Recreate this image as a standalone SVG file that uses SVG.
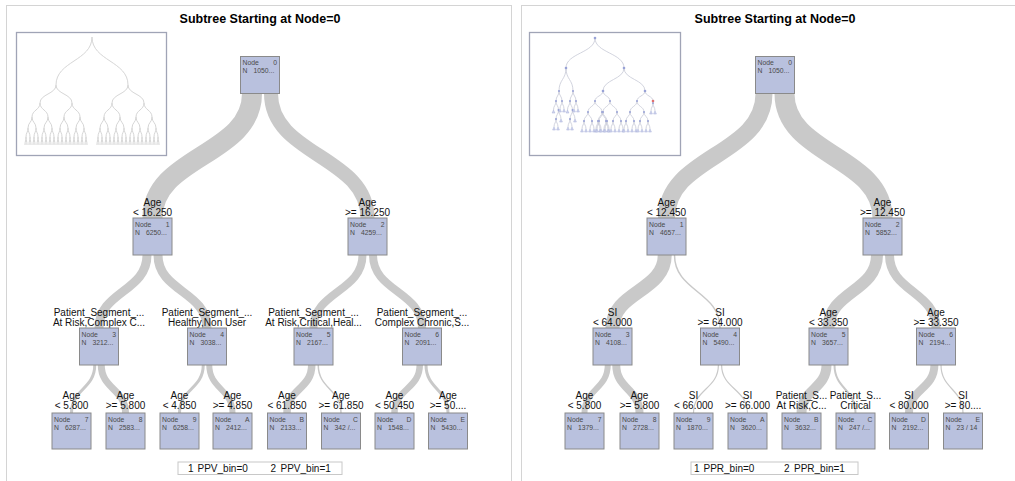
<svg xmlns="http://www.w3.org/2000/svg" width="1015" height="481" viewBox="0 0 1015 481">
<style>
.panel{fill:#fff;stroke:#d4d4d4;stroke-width:1}
.title{font:bold 12.5px "Liberation Sans",Arial,sans-serif;text-anchor:middle;fill:#000}
.ov{fill:#fff;stroke:#a0a4b6;stroke-width:1.3}
.mp{fill:none;stroke:#d6d6d6;stroke-width:1}
.ml{fill:none;stroke:#c6c9d6;stroke-width:.8}
.md{fill:#98a2d6}
.mlf{fill:#d3d7ee;stroke:#a6aed8;stroke-width:.5}
.band{fill:none;stroke:#c9c9c9;stroke-linecap:butt}
.nb{fill:#b9c1de;stroke:#8a8a8a;stroke-width:1}
.nt{font:6.8px "Liberation Sans",Arial,sans-serif;fill:#4a4a4a}
.ne{text-anchor:end}
.lb{font:10px "Liberation Sans",Arial,sans-serif;text-anchor:middle;fill:#111}
.lg{fill:#fff;stroke:#c8c8c8;stroke-width:1}
.lt{font:10px "Liberation Sans",Arial,sans-serif;fill:#111}
</style>
<defs>
<g id="m6"><path class="mp" d="M0,0C0,4 -1,4 -1,8M0,0C0,4 1,4 1,8"/></g>
<g id="m5"><path class="mp" d="M0,0C0,4.5 -2,4.5 -2,9M0,0C0,4.5 2,4.5 2,9"/><use href="#m6" x="-2" y="9"/><use href="#m6" x="2" y="9"/></g>
<g id="m4"><path class="mp" d="M0,0C0,5.5 -4,5.5 -4,11M0,0C0,5.5 4,5.5 4,11"/><use href="#m5" x="-4" y="11"/><use href="#m5" x="4" y="11"/></g>
<g id="m3"><path class="mp" d="M0,0C0,7 -8,7 -8,14M0,0C0,7 8,7 8,14"/><use href="#m4" x="-8" y="14"/><use href="#m4" x="8" y="14"/></g>
<g id="m2"><path class="mp" d="M0,0C0,9 -16,9 -16,18M0,0C0,9 16,9 16,18"/><use href="#m3" x="-16" y="18"/><use href="#m3" x="16" y="18"/></g>
<g id="m1"><path class="mp" d="M0,0C0,24 -36,24 -36,48M0,0C0,24 36,24 36,48"/><use href="#m2" x="-36" y="48"/><use href="#m2" x="36" y="48"/></g>
<g id="lf"><path d="M0,0l-1.4,3h2.8z" class="mlf"/></g>
<g id="q1"><path d="M0,0C0,4 -2,4 -2,8M0,0C0,4 2,4 2,8" class="ml"/><use href="#lf" x="-2" y="8"/><use href="#lf" x="2" y="8"/><circle r="1" class="md"/></g>
<g id="q2"><path d="M0,0C0,4.5 -4,4.5 -4,9M0,0C0,4.5 4,4.5 4,9" class="ml"/><use href="#q1" x="-4" y="9"/><use href="#q1" x="4" y="9"/><circle r="1" class="md"/></g>
<g id="q3"><path d="M0,0C0,5.5 -7,5.5 -7,11M0,0C0,5.5 7,5.5 7,11" class="ml"/><use href="#q2" x="-7" y="11"/><use href="#q2" x="7" y="11"/><circle r="1" class="md"/></g>
<g id="c2"><path d="M0,0C0,4.5 -2.5,4.5 -2.5,9M0,0C0,4.5 2.5,4.5 2.5,9" class="ml"/><use href="#q1" x="-2.5" y="9"/><use href="#lf" x="2.5" y="9"/><circle r="1" class="md"/></g>
<g id="c3"><path d="M0,0C0,4.5 -2.5,4.5 -2.5,9M0,0C0,4.5 2.5,4.5 2.5,9" class="ml"/><use href="#lf" x="-2.5" y="9"/><use href="#c2" x="2.5" y="9"/><circle r="1" class="md"/></g>
<g id="c4"><path d="M0,0C0,5 -3,5 -3,10M0,0C0,5 3,5 3,10" class="ml"/><use href="#c3" x="-3" y="10"/><use href="#q1" x="3" y="10"/><circle r="1" class="md"/></g>
</defs>

<g id="panels">
<rect class="panel" x="6.5" y="5.5" width="505" height="490"/>
<rect class="panel" x="521.5" y="5.5" width="510" height="490"/>
<text class="title" x="260" y="23">Subtree Starting at Node=0</text>
<text class="title" x="775" y="23">Subtree Starting at Node=0</text>
</g>

<g id="overview-left">
<rect class="ov" x="16.5" y="32.5" width="150" height="123"/>
<use href="#m1" x="92" y="37"/>
</g>

<g id="overview-right">
<rect class="ov" x="529.5" y="32.5" width="151" height="123"/>
<path class="ml" d="M595,38C595,53 566,53 566,68M595,38C595,53 624,53 624,68M566,68C566,79.5 559,79.5 559,91M566,68C566,79.5 573,79.5 573,91M624,68C624,79.5 603,79.5 603,91M624,68C624,79.5 645,79.5 645,91M603,91C603,96 595,96 595,101M603,91C603,96 610,96 610,101M645,91C645,96 637,96 637,101M645,91C645,96 653,96 653,101"/>
<use href="#c4" x="559" y="91"/>
<use href="#c4" x="573" y="91"/>
<use href="#q3" x="595" y="101"/>
<use href="#q3" x="610" y="101"/>
<use href="#q3" x="637" y="101"/>
<use href="#q1" x="653" y="103"/>
<circle class="md" cx="595" cy="38" r="1.3"/>
<circle class="md" cx="566" cy="68" r="1.3"/>
<circle class="md" cx="624" cy="68" r="1.3"/>
<circle class="md" cx="603" cy="91" r="1.3"/>
<circle class="md" cx="645" cy="91" r="1.3"/>
<circle cx="653" cy="101" r="1.3" fill="#e07070"/>
</g>

<g id="connectors">
<path class="band" stroke-width="20" d="M252,93.5C252,155.75 152.5,155.75 152.5,218"/>
<path class="band" stroke-width="14" d="M271,93.5C271,155.75 367.5,155.75 367.5,218"/>
<path class="band" stroke-width="9" d="M147,255C147,291.5 99,291.5 99,328"/>
<path class="band" stroke-width="9" d="M158,255C158,291.5 207,291.5 207,328"/>
<path class="band" stroke-width="8" d="M362.5,255C362.5,291.5 313.5,291.5 313.5,328"/>
<path class="band" stroke-width="8" d="M373,255C373,291.5 422,291.5 422,328"/>
<path class="band" stroke-width="3" d="M94.75,365C94.75,389 71.5,389 71.5,413"/>
<path class="band" stroke-width="7" d="M101.25,365C101.25,389 125.5,389 125.5,413"/>
<path class="band" stroke-width="3" d="M203.25,365C203.25,389 179.5,389 179.5,413"/>
<path class="band" stroke-width="6" d="M209.25,365C209.25,389 232.5,389 232.5,413"/>
<path class="band" stroke-width="7.5" d="M311.75,365C311.75,389 287,389 287,413"/>
<path class="band" stroke-width="1.5" d="M318.25,365C318.25,389 341,389 341,413"/>
<path class="band" stroke-width="6.5" d="M419.75,365C419.75,389 394.5,389 394.5,413"/>
<path class="band" stroke-width="3" d="M426,365C426,389 448,389 448,413"/>

<path class="band" stroke-width="17" d="M764,93.5C764,155.75 666.5,155.75 666.5,218"/>
<path class="band" stroke-width="20" d="M784.5,93.5C784.5,155.75 882.5,155.75 882.5,218"/>
<path class="band" stroke-width="14" d="M664.75,255C664.75,291.5 612.5,291.5 612.5,328"/>
<path class="band" stroke-width="1.5" d="M674.5,255C674.5,291.5 720,291.5 720,328"/>
<path class="band" stroke-width="12" d="M877,255C877,291.5 828.5,291.5 828.5,328"/>
<path class="band" stroke-width="9" d="M889.5,255C889.5,291.5 936,291.5 936,328"/>
<path class="band" stroke-width="6" d="M607.75,365C607.75,389 584.5,389 584.5,413"/>
<path class="band" stroke-width="8" d="M616.25,365C616.25,389 639.5,389 639.5,413"/>
<path class="band" stroke-width="1.2" d="M718.4,365C718.4,389 693.5,389 693.5,413"/>
<path class="band" stroke-width="1.2" d="M721.6,365C721.6,389 747.5,389 747.5,413"/>
<path class="band" stroke-width="10" d="M826.5,365C826.5,389 801.5,389 801.5,413"/>
<path class="band" stroke-width="2" d="M834.5,365C834.5,389 855.5,389 855.5,413"/>
<path class="band" stroke-width="8" d="M934.4,365C934.4,389 909,389 909,413"/>
<path class="band" stroke-width="1.2" d="M941,365C941,389 963,389 963,413"/>
</g>

<!-- Left tree nodes -->
<g id="L-node0" transform="translate(240.5,56.5)"><rect class="nb" width="39" height="37"/><text class="nt" x="2" y="8.5">Node</text><text class="nt ne" x="36.5" y="8.5">0</text><text class="nt" x="2" y="16.5">N</text><text class="nt" x="13" y="16.5">1050...</text></g>
<g id="L-node1" transform="translate(133,218)"><text class="lb" x="19.5" y="-12.5">Age</text><text class="lb" x="19.5" y="-2">&lt; 16.250</text><rect class="nb" width="39" height="37"/><text class="nt" x="2" y="8.5">Node</text><text class="nt ne" x="36.5" y="8.5">1</text><text class="nt" x="2" y="16.5">N</text><text class="nt" x="13" y="16.5">6250...</text></g>
<g id="L-node2" transform="translate(348,218)"><text class="lb" x="19.5" y="-12.5">Age</text><text class="lb" x="19.5" y="-2">&gt;= 16.250</text><rect class="nb" width="39" height="37"/><text class="nt" x="2" y="8.5">Node</text><text class="nt ne" x="36.5" y="8.5">2</text><text class="nt" x="2" y="16.5">N</text><text class="nt" x="13" y="16.5">4259...</text></g>
<g id="L-node3" transform="translate(79.5,328)"><text class="lb" x="19.5" y="-12.5">Patient_Segment_...</text><text class="lb" x="19.5" y="-2.5">At Risk,Complex C...</text><rect class="nb" width="39" height="37"/><text class="nt" x="2" y="8.5">Node</text><text class="nt ne" x="36.5" y="8.5">3</text><text class="nt" x="2" y="16.5">N</text><text class="nt" x="13" y="16.5">3212...</text></g>
<g id="L-node4" transform="translate(187.5,328)"><text class="lb" x="19.5" y="-12.5">Patient_Segment_...</text><text class="lb" x="19.5" y="-2.5">Healthy,Non User</text><rect class="nb" width="39" height="37"/><text class="nt" x="2" y="8.5">Node</text><text class="nt ne" x="36.5" y="8.5">4</text><text class="nt" x="2" y="16.5">N</text><text class="nt" x="13" y="16.5">3038...</text></g>
<g id="L-node5" transform="translate(294,328)"><text class="lb" x="19.5" y="-12.5">Patient_Segment_...</text><text class="lb" x="19.5" y="-2.5">At Risk,Critical,Heal...</text><rect class="nb" width="39" height="37"/><text class="nt" x="2" y="8.5">Node</text><text class="nt ne" x="36.5" y="8.5">5</text><text class="nt" x="2" y="16.5">N</text><text class="nt" x="13" y="16.5">2167...</text></g>
<g id="L-node6" transform="translate(402.5,328)"><text class="lb" x="19.5" y="-12.5">Patient_Segment_...</text><text class="lb" x="19.5" y="-2.5">Complex Chronic,S...</text><rect class="nb" width="39" height="37"/><text class="nt" x="2" y="8.5">Node</text><text class="nt ne" x="36.5" y="8.5">6</text><text class="nt" x="2" y="16.5">N</text><text class="nt" x="13" y="16.5">2091...</text></g>
<g id="L-node7" transform="translate(52,413)"><text class="lb" x="19.5" y="-14.5">Age</text><text class="lb" x="19.5" y="-4">&lt; 5.800</text><rect class="nb" width="39" height="36"/><text class="nt" x="2" y="8.5">Node</text><text class="nt ne" x="36.5" y="8.5">7</text><text class="nt" x="2" y="16.5">N</text><text class="nt" x="13" y="16.5">6287...</text></g>
<g id="L-node8" transform="translate(106,413)"><text class="lb" x="19.5" y="-14.5">Age</text><text class="lb" x="19.5" y="-4">&gt;= 5.800</text><rect class="nb" width="39" height="36"/><text class="nt" x="2" y="8.5">Node</text><text class="nt ne" x="36.5" y="8.5">8</text><text class="nt" x="2" y="16.5">N</text><text class="nt" x="13" y="16.5">2583...</text></g>
<g id="L-node9" transform="translate(160,413)"><text class="lb" x="19.5" y="-14.5">Age</text><text class="lb" x="19.5" y="-4">&lt; 4.850</text><rect class="nb" width="39" height="36"/><text class="nt" x="2" y="8.5">Node</text><text class="nt ne" x="36.5" y="8.5">9</text><text class="nt" x="2" y="16.5">N</text><text class="nt" x="13" y="16.5">6258...</text></g>
<g id="L-nodeA" transform="translate(213,413)"><text class="lb" x="19.5" y="-14.5">Age</text><text class="lb" x="19.5" y="-4">&gt;= 4.850</text><rect class="nb" width="39" height="36"/><text class="nt" x="2" y="8.5">Node</text><text class="nt ne" x="36.5" y="8.5">A</text><text class="nt" x="2" y="16.5">N</text><text class="nt" x="13" y="16.5">2412...</text></g>
<g id="L-nodeB" transform="translate(267.5,413)"><text class="lb" x="19.5" y="-14.5">Age</text><text class="lb" x="19.5" y="-4">&lt; 61.850</text><rect class="nb" width="39" height="36"/><text class="nt" x="2" y="8.5">Node</text><text class="nt ne" x="36.5" y="8.5">B</text><text class="nt" x="2" y="16.5">N</text><text class="nt" x="13" y="16.5">2133...</text></g>
<g id="L-nodeC" transform="translate(321.5,413)"><text class="lb" x="19.5" y="-14.5">Age</text><text class="lb" x="19.5" y="-4">&gt;= 61.850</text><rect class="nb" width="39" height="36"/><text class="nt" x="2" y="8.5">Node</text><text class="nt ne" x="36.5" y="8.5">C</text><text class="nt" x="2" y="16.5">N</text><text class="nt" x="13" y="16.5">342 /...</text></g>
<g id="L-nodeD" transform="translate(375,413)"><text class="lb" x="19.5" y="-14.5">Age</text><text class="lb" x="19.5" y="-4">&lt; 50.450</text><rect class="nb" width="39" height="36"/><text class="nt" x="2" y="8.5">Node</text><text class="nt ne" x="36.5" y="8.5">D</text><text class="nt" x="2" y="16.5">N</text><text class="nt" x="13" y="16.5">1548...</text></g>
<g id="L-nodeE" transform="translate(428.5,413)"><text class="lb" x="19.5" y="-14.5">Age</text><text class="lb" x="19.5" y="-4">&gt;= 50....</text><rect class="nb" width="39" height="36"/><text class="nt" x="2" y="8.5">Node</text><text class="nt ne" x="36.5" y="8.5">E</text><text class="nt" x="2" y="16.5">N</text><text class="nt" x="13" y="16.5">5430...</text></g>

<!-- Right tree nodes -->
<g id="R-node0" transform="translate(755.5,56.5)"><rect class="nb" width="39" height="37"/><text class="nt" x="2" y="8.5">Node</text><text class="nt ne" x="36.5" y="8.5">0</text><text class="nt" x="2" y="16.5">N</text><text class="nt" x="13" y="16.5">1050...</text></g>
<g id="R-node1" transform="translate(647,218)"><text class="lb" x="19.5" y="-12.5">Age</text><text class="lb" x="19.5" y="-2">&lt; 12.450</text><rect class="nb" width="39" height="37"/><text class="nt" x="2" y="8.5">Node</text><text class="nt ne" x="36.5" y="8.5">1</text><text class="nt" x="2" y="16.5">N</text><text class="nt" x="13" y="16.5">4657...</text></g>
<g id="R-node2" transform="translate(863,218)"><text class="lb" x="19.5" y="-12.5">Age</text><text class="lb" x="19.5" y="-2">&gt;= 12.450</text><rect class="nb" width="39" height="37"/><text class="nt" x="2" y="8.5">Node</text><text class="nt ne" x="36.5" y="8.5">2</text><text class="nt" x="2" y="16.5">N</text><text class="nt" x="13" y="16.5">5852...</text></g>
<g id="R-node3" transform="translate(593,328)"><text class="lb" x="19.5" y="-12.5">SI</text><text class="lb" x="19.5" y="-2.5">&lt; 64.000</text><rect class="nb" width="39" height="37"/><text class="nt" x="2" y="8.5">Node</text><text class="nt ne" x="36.5" y="8.5">3</text><text class="nt" x="2" y="16.5">N</text><text class="nt" x="13" y="16.5">4108...</text></g>
<g id="R-node4" transform="translate(700.5,328)"><text class="lb" x="19.5" y="-12.5">SI</text><text class="lb" x="19.5" y="-2.5">&gt;= 64.000</text><rect class="nb" width="39" height="37"/><text class="nt" x="2" y="8.5">Node</text><text class="nt ne" x="36.5" y="8.5">4</text><text class="nt" x="2" y="16.5">N</text><text class="nt" x="13" y="16.5">5490...</text></g>
<g id="R-node5" transform="translate(809,328)"><text class="lb" x="19.5" y="-12.5">Age</text><text class="lb" x="19.5" y="-2.5">&lt; 33.350</text><rect class="nb" width="39" height="37"/><text class="nt" x="2" y="8.5">Node</text><text class="nt ne" x="36.5" y="8.5">5</text><text class="nt" x="2" y="16.5">N</text><text class="nt" x="13" y="16.5">3657...</text></g>
<g id="R-node6" transform="translate(916.5,328)"><text class="lb" x="19.5" y="-12.5">Age</text><text class="lb" x="19.5" y="-2.5">&gt;= 33.350</text><rect class="nb" width="39" height="37"/><text class="nt" x="2" y="8.5">Node</text><text class="nt ne" x="36.5" y="8.5">6</text><text class="nt" x="2" y="16.5">N</text><text class="nt" x="13" y="16.5">2194...</text></g>
<g id="R-node7" transform="translate(565,413)"><text class="lb" x="19.5" y="-14.5">Age</text><text class="lb" x="19.5" y="-4">&lt; 5.800</text><rect class="nb" width="39" height="36"/><text class="nt" x="2" y="8.5">Node</text><text class="nt ne" x="36.5" y="8.5">7</text><text class="nt" x="2" y="16.5">N</text><text class="nt" x="13" y="16.5">1379...</text></g>
<g id="R-node8" transform="translate(620,413)"><text class="lb" x="19.5" y="-14.5">Age</text><text class="lb" x="19.5" y="-4">&gt;= 5.800</text><rect class="nb" width="39" height="36"/><text class="nt" x="2" y="8.5">Node</text><text class="nt ne" x="36.5" y="8.5">8</text><text class="nt" x="2" y="16.5">N</text><text class="nt" x="13" y="16.5">2728...</text></g>
<g id="R-node9" transform="translate(674,413)"><text class="lb" x="19.5" y="-14.5">SI</text><text class="lb" x="19.5" y="-4">&lt; 66.000</text><rect class="nb" width="39" height="36"/><text class="nt" x="2" y="8.5">Node</text><text class="nt ne" x="36.5" y="8.5">9</text><text class="nt" x="2" y="16.5">N</text><text class="nt" x="13" y="16.5">1870...</text></g>
<g id="R-nodeA" transform="translate(728,413)"><text class="lb" x="19.5" y="-14.5">SI</text><text class="lb" x="19.5" y="-4">&gt;= 66.000</text><rect class="nb" width="39" height="36"/><text class="nt" x="2" y="8.5">Node</text><text class="nt ne" x="36.5" y="8.5">A</text><text class="nt" x="2" y="16.5">N</text><text class="nt" x="13" y="16.5">3620...</text></g>
<g id="R-nodeB" transform="translate(782,413)"><text class="lb" x="19.5" y="-14.5">Patient_S...</text><text class="lb" x="19.5" y="-4">At Risk,C...</text><rect class="nb" width="39" height="36"/><text class="nt" x="2" y="8.5">Node</text><text class="nt ne" x="36.5" y="8.5">B</text><text class="nt" x="2" y="16.5">N</text><text class="nt" x="13" y="16.5">3632...</text></g>
<g id="R-nodeC" transform="translate(836,413)"><text class="lb" x="19.5" y="-14.5">Patient_S...</text><text class="lb" x="19.5" y="-4">Critical</text><rect class="nb" width="39" height="36"/><text class="nt" x="2" y="8.5">Node</text><text class="nt ne" x="36.5" y="8.5">C</text><text class="nt" x="2" y="16.5">N</text><text class="nt" x="13" y="16.5">247 /...</text></g>
<g id="R-nodeD" transform="translate(889.5,413)"><text class="lb" x="19.5" y="-14.5">SI</text><text class="lb" x="19.5" y="-4">&lt; 80.000</text><rect class="nb" width="39" height="36"/><text class="nt" x="2" y="8.5">Node</text><text class="nt ne" x="36.5" y="8.5">D</text><text class="nt" x="2" y="16.5">N</text><text class="nt" x="13" y="16.5">2192...</text></g>
<g id="R-nodeE" transform="translate(943.5,413)"><text class="lb" x="19.5" y="-14.5">SI</text><text class="lb" x="19.5" y="-4">&gt;= 80....</text><rect class="nb" width="39" height="36"/><text class="nt" x="2" y="8.5">Node</text><text class="nt ne" x="36.5" y="8.5">E</text><text class="nt" x="2" y="16.5">N</text><text class="nt" x="13" y="16.5">23 / 14</text></g>

<g id="legend-left">
<rect class="lg" x="178" y="462" width="164" height="12.5"/>
<text class="lt" x="188" y="471.5">1</text><text class="lt" x="197.5" y="471.5">PPV_bin=0</text>
<text class="lt" x="270.5" y="471.5">2</text><text class="lt" x="280.5" y="471.5">PPV_bin=1</text>
</g>
<g id="legend-right">
<rect class="lg" x="691" y="462" width="167" height="12.5"/>
<text class="lt" x="694" y="471.5">1</text><text class="lt" x="703.5" y="471.5">PPR_bin=0</text>
<text class="lt" x="784" y="471.5">2</text><text class="lt" x="794" y="471.5">PPR_bin=1</text>
</g>
</svg>
